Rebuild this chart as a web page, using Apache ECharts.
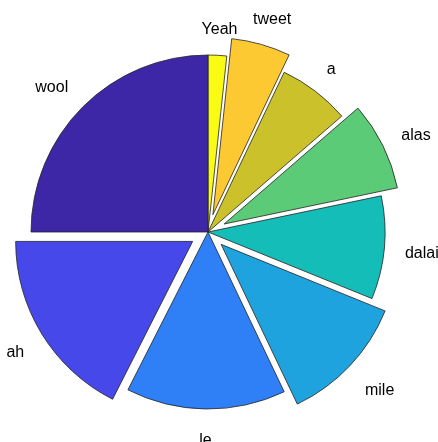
<!DOCTYPE html>
<html>
<head>
<meta charset="utf-8">
<script src="https://cdn.jsdelivr.net/npm/echarts@6/dist/echarts.min.js"></script>
<style>
  html, body { margin: 0; padding: 0; background: #fff; }
  #chart { width: 438px; height: 442px; }
</style>
</head>
<body>
<div id="chart"></div>
<script>
// slices, clockwise from 12 o'clock
var names = ['Yeah', 'tweet', 'a', 'alas', 'dalai', 'mile', 'le', 'ah', 'wool'];
var values = [6.1, 19.4, 23.6, 29.1, 33.9, 42.4, 52.4, 63.1, 90];
var exploded = [false, true, false, true, false, true, false, true, false];
var colors = ['#f9fb15', '#fcc932', '#cbc12b', '#5ccb78', '#14bdb8', '#1fa3de', '#2f7ff6', '#4648ea', '#3e27a6'];

var center = [208, 232];
var R = 177;
var labelR = R * 1.1;

function buildData(withStyle) {
    return names.map(function (n, i) {
        var d = { name: n, value: values[i], selected: exploded[i] };
        if (withStyle) {
            d.itemStyle = { color: colors[i] };
        }
        return d;
    });
}

// push each label out so its box just touches the anchor point (like matlab pie text)
function pushOut(params) {
    var r = params.labelRect;
    var cx = r.x + r.width / 2;
    var cy = r.y + r.height / 2;
    var ux = cx - center[0];
    var uy = cy - center[1];
    var m = Math.max(Math.abs(ux), Math.abs(uy));
    if (!m) return {};
    return {
        dx: ux / m * r.width / 2,
        dy: uy / m * r.height / 2 + 3
    };
}

var myChart = echarts.init(document.getElementById('chart'));
var option = {
    animation: false,
    series: [
        {
            name: 'slices',
            type: 'pie',
            center: center,
            radius: [0, R],
            startAngle: 90,
            clockwise: true,
            selectedMode: 'multiple',
            selectedOffset: 18,
            silent: true,
            label: { show: false },
            labelLine: { show: false },
            itemStyle: {
                borderColor: '#222',
                borderWidth: 0.8
            },
            emphasis: { disabled: true },
            select: { itemStyle: { borderColor: '#222', borderWidth: 0.8 } },
            data: buildData(true)
        },
        {
            // invisible thin ring that just carries the labels
            name: 'labels',
            type: 'pie',
            center: center,
            radius: [labelR - 1, labelR + 1],
            startAngle: 90,
            clockwise: true,
            selectedMode: 'multiple',
            selectedOffset: 18,
            silent: true,
            avoidLabelOverlap: false,
            itemStyle: { color: 'rgba(0,0,0,0)' },
            emphasis: { disabled: true },
            select: { itemStyle: { color: 'rgba(0,0,0,0)', borderWidth: 0 } },
            label: {
                show: true,
                position: 'inside',
                rotate: 0,
                formatter: '{b}',
                color: '#000',
                fontSize: 16,
                fontFamily: 'Liberation Sans, Arial, sans-serif'
            },
            labelLine: { show: false },
            labelLayout: pushOut,
            data: buildData(false)
        }
    ]
};
myChart.setOption(option);
</script>
</body>
</html>
